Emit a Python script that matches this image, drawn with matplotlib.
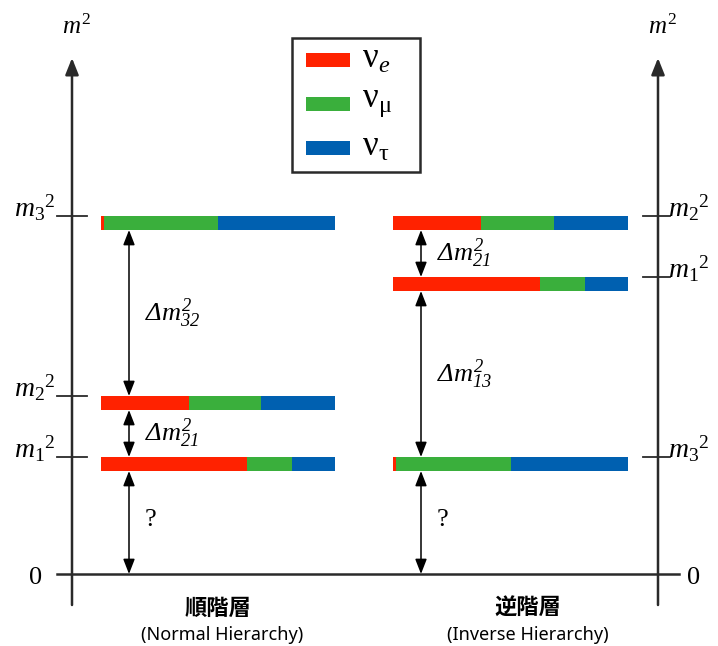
import matplotlib.pyplot as plt
from matplotlib.patches import Rectangle

# italic serif for math, upright serif through \mathsf
plt.rcParams["mathtext.fontset"] = "custom"
plt.rcParams["mathtext.rm"] = "Liberation Serif:italic"
plt.rcParams["mathtext.it"] = "Liberation Serif:italic"
plt.rcParams["mathtext.sf"] = "Liberation Serif"
plt.rcParams["mathtext.bf"] = "Liberation Serif:bold"

# flavour content of each mass state (nu_e, nu_mu, nu_tau)
flavour_labels = [r"$\mathsf{ν}_{e}$", r"$\mathsf{ν}_{\mathsf{μ}}$", r"$\mathsf{ν}_{\mathsf{τ}}$"]
flavour_colors = ["#ff2200", "#3aaf3c", "#0060b0"]
content_1 = [0.625, 0.19, 0.185]
content_2 = [0.375, 0.31, 0.315]
content_3 = [0.013, 0.487, 0.50]

# squared-mass levels (arbitrary units, 0 at the baseline)
normal_states = ["1", "2", "3"]
normal_levels = [117, 178, 358]
inverse_states = ["3", "1", "2"]
inverse_levels = [117, 297, 358]

normal_gaps = [(358, 178, "32"), (178, 117, "21"), (117, 0, None)]
inverse_gaps = [(358, 297, "21"), (297, 117, "13"), (117, 0, None)]

contents = {"1": content_1, "2": content_2, "3": content_3}

bar_h = 14
fig = plt.figure(figsize=(7.18, 6.46), dpi=100)
ax = fig.add_axes([0, 0, 1, 1])
ax.set_xlim(0, 718)
ax.set_ylim(-72, 574)
ax.axis("off")

# axes
left_x, right_x = 72, 658
for x in (left_x, right_x):
    ax.annotate("", xy=(x, 516), xytext=(x, -31),
                arrowprops=dict(arrowstyle="-|>,head_width=0.4,head_length=1.0", color="#2a2a2a",
                                lw=1.8, shrinkA=0, shrinkB=0))
    ax.text(x + 4, 547, r"$m^{\mathsf{2}}$", fontsize=18, ha="center", va="center")
ax.plot([57, 679], [0, 0], color="#2a2a2a", lw=1.8)
ax.text(36, -4, "0", fontsize=19, ha="center", va="center", family="Liberation Serif")
ax.text(694, -4, "0", fontsize=19, ha="center", va="center", family="Liberation Serif")


def draw_column(x0, width, states, levels, gaps, arrow_x, tick_side):
    for s, lv in zip(states, levels):
        left = x0
        for frac, col in zip(contents[s], flavour_colors):
            ax.add_patch(Rectangle((left, lv - bar_h), width * frac, bar_h, color=col, lw=0))
            left += width * frac
        label = r"${m_{\mathsf{%s}}}^{\mathsf{2}}$" % s
        if tick_side == "left":
            ax.plot([57, 87], [lv, lv], color="#2a2a2a", lw=1.3)
            ax.text(55, lv + 8, label, fontsize=20, ha="right", va="center")
        else:
            ax.plot([643, 670], [lv, lv], color="#2a2a2a", lw=1.3)
            ax.text(668, lv + 8, label, fontsize=20, ha="left", va="center")
    for top, bottom, idx in gaps:
        y0 = top - bar_h
        ax.annotate("", xy=(arrow_x, bottom), xytext=(arrow_x, y0),
                    arrowprops=dict(arrowstyle="<|-|>,head_width=0.35,head_length=0.9", color="black",
                                    lw=1.1, shrinkA=0, shrinkB=0))
        ym = (y0 + bottom) / 2
        if idx is None:
            ax.text(arrow_x + 22, ym + 2, "?", fontsize=19, ha="center", va="center",
                    family="Liberation Serif")
        else:
            ax.text(arrow_x + 16, ym, r"$Δm^{2}_{%s}$" % idx, fontsize=19,
                    ha="left", va="center")


draw_column(101, 234, normal_states, normal_levels, normal_gaps, 129, "left")
draw_column(393, 235, inverse_states, inverse_levels, inverse_gaps, 421, "right")

# legend box
ax.add_patch(Rectangle((292, 402), 128, 134, fill=False, ec="#2a2a2a", lw=1.8))
for i, (lab, col) in enumerate(zip(flavour_labels, flavour_colors)):
    y = 514 - i * 44
    ax.add_patch(Rectangle((306, y - 7), 44, 14, color=col, lw=0))
    ax.text(362, y + 2, lab, fontsize=25, ha="left", va="center")

# captions
jp = ["Noto Sans CJK JP", "DejaVu Sans"]
ax.text(218, -34, "順階層", fontsize=16, ha="center", va="center", family=jp, weight="bold")
ax.text(222, -61, "(Normal Hierarchy)", fontsize=13, ha="center", va="center", family="Noto Sans")
ax.text(528, -34, "逆階層", fontsize=16, ha="center", va="center", family=jp, weight="bold")
ax.text(528, -61, "(Inverse Hierarchy)", fontsize=13, ha="center", va="center", family="Noto Sans")

fig.savefig("out.png", dpi=100)
